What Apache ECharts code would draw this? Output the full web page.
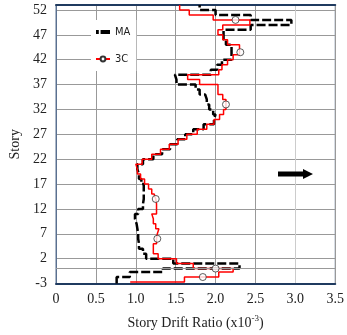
<!DOCTYPE html>
<html><head><meta charset="utf-8">
<script src="https://cdn.jsdelivr.net/npm/echarts@6/dist/echarts.min.js"></script>
<style>html,body{margin:0;padding:0;background:#fff}#c{width:347px;height:335px}</style>
</head><body><div id="c"></div>
<script>
// Story level boundaries (each interval = one story)
const storyLevels = [-2.7, -1.7, -0.7, 0, 1, 2, 3, 4, 5, 6, 7, 8, 9, 10, 11, 12, 13, 14, 15, 16, 17, 18, 19, 20,
  21, 22, 23, 24, 25, 26, 27, 28, 29, 30, 31, 32, 33, 34, 35, 36, 37, 38, 39, 40, 41, 42, 43, 44, 45, 46,
  47, 48, 49, 50, 51, 52, 53];
// Story drift ratio (x10^-3) for each story interval
const maDrift = [0.76, 0.925, 1.34, 2.30, 1.47, 1.13, 1.09, 1.04, 1.03, 1.03, 1.02, 1.01, 0.99, 0.99, 1.03,
  1.09, 1.10, 1.10, 1.10, 1.10, 1.07, 1.04, 1.02, 1.02, 1.09, 1.22, 1.33, 1.43, 1.52, 1.62, 1.72, 1.85,
  1.98, 2.00, 1.97, 1.92, 1.89, 1.87, 1.80, 1.75, 1.51, 1.49, 1.94, 2.02, 2.08, 2.20, 2.20, 2.20, 2.13,
  2.10, 2.10, 2.44, 2.95, 2.44, 2.00, 1.80];
const c3Drift = [1.61, 2.04, 2.22, 1.72, 1.51, 1.28, 1.22, 1.22, 1.26, 1.27, 1.29, 1.25, 1.22, 1.20, 1.26,
  1.26, 1.25, 1.23, 1.20, 1.16, 1.11, 1.06, 1.02, 1.00, 1.08, 1.20, 1.31, 1.42, 1.53, 1.64, 1.77, 1.89,
  1.98, 2.05, 2.10, 2.13, 2.13, 2.09, 2.03, 2.03, 1.80, 1.65, 2.04, 2.08, 2.15, 2.22, 2.30, 2.30, 2.15,
  2.09, 2.03, 2.09, 2.43, 1.97, 1.67, 1.55];
const maStart = [0.76, -3];
const c3Start = [0.93, -2.7];
// circle markers on the 3C curve
const c3MarkerDrift = [1.84, 2.00, 1.27, 1.25, 2.13, 2.31, 2.25];
const c3MarkerStory = [-1.7, 0, 6, 14, 33, 43.5, 50];
const xTickLabels = ['0', '0.5', '1.0', '1.5', '2.0', '2.5', '3.0', '3.5'];
const seriesNames = ['MA', '3C'];

function stepPath(start, drift) {
  const pts = [start];
  drift.forEach((d, i) => {
    pts.push([d, storyLevels[i]]);
    pts.push([d, storyLevels[i + 1]]);
  });
  return pts;
}

const serif = 'Liberation Serif, Times New Roman, serif';
const chart = echarts.init(document.getElementById('c'));
chart.setOption({
  animation: false,
  backgroundColor: '#fff',
  grid: { left: 56, right: 11, top: 5, bottom: 50, show: true, borderColor: '#5a7090', borderWidth: 1 },
  legend: {
    data: [
      { name: seriesNames[0], icon: 'path://M0,0h2.2v3h-2.2z M3.6,0h7.4v3h-7.4z' },
      { name: seriesNames[1] }
    ],
    orient: 'vertical',
    left: 91, top: 20,
    padding: [6, 6, 6, 4],
    itemWidth: 14, itemHeight: 6, itemGap: 15,
    backgroundColor: '#fff',
    textStyle: { fontFamily: 'Liberation Sans Narrow, DejaVu Sans Condensed, Arial Narrow, Liberation Sans, sans-serif', fontSize: 11, color: '#222', lineHeight: 12 }
  },
  xAxis: [{
    type: 'value', min: 0, max: 3.5, interval: 0.5,
    axisLine: { show: true, onZero: false, lineStyle: { color: '#1f3a5f', width: 2 } },
    axisTick: { show: false },
    splitLine: { show: true, lineStyle: { color: ['#999', '#999', '#999', '#999', '#999', '#999', '#ccc', '#999'], width: 1 } },
    axisLabel: { fontFamily: serif, fontSize: 14, color: '#222', margin: 9,
      formatter: (v) => xTickLabels[Math.round(v / 0.5)] },
    name: 'Story Drift Ratio (x10{sup|-3})',
    nameLocation: 'middle', nameGap: 31,
    nameTextStyle: { fontFamily: serif, fontSize: 14, color: '#222',
      rich: { sup: { fontFamily: serif, fontSize: 9, verticalAlign: 'top', padding: [0, 0, 8, 0] } } }
  }, {
    type: 'value', position: 'top', min: 0, max: 3.5, interval: 0.5,
    axisLine: { show: true, onZero: false, lineStyle: { color: '#1f3a5f', width: 2 } },
    axisTick: { show: false }, axisLabel: { show: false }, splitLine: { show: false }
  }],
  yAxis: {
    type: 'value', min: -3, max: 53, interval: 5,
    axisLine: { show: true, onZero: false, lineStyle: { color: '#5a7090', width: 1 } },
    axisTick: { show: false },
    splitLine: { show: true, lineStyle: { color: '#999', width: 1 } },
    axisLabel: { fontFamily: serif, fontSize: 14, color: '#222', margin: 9, showMaxLabel: false },
    name: 'Story', nameLocation: 'middle', nameGap: 31, nameRotate: 90,
    nameTextStyle: { fontFamily: serif, fontSize: 14, color: '#222' }
  },
  series: [{
    name: seriesNames[0], type: 'line', data: stepPath(maStart, maDrift),
    symbol: 'none', z: 3,
    lineStyle: { color: '#000', width: 2.5, type: [9, 3] },
    itemStyle: { color: '#000' },
    markLine: { silent: true, symbol: ['none', 'none'], label: { show: false },
      lineStyle: { color: '#999', type: 'solid', width: 1 }, data: [{ yAxis: 0 }] }
  }, {
    name: seriesNames[1], type: 'line', data: stepPath(c3Start, c3Drift),
    symbol: 'circle', showSymbol: false, symbolSize: 7, z: 4,
    lineStyle: { color: '#ff0000', width: 1.5 },
    itemStyle: { color: '#fff', borderColor: '#333', borderWidth: 1 }
  }, {
    name: '3C markers', type: 'scatter', z: 5,
    data: c3MarkerDrift.map((d, i) => [d, c3MarkerStory[i]]),
    symbol: 'circle', symbolSize: 7,
    itemStyle: { color: '#fff', borderColor: '#333', borderWidth: 1 }
  }],
  graphic: [{
    type: 'polygon', z: 10,
    shape: { points: [[278, 171.5], [303, 171.5], [303, 169], [313, 174], [303, 179], [303, 176.5], [278, 176.5]] },
    style: { fill: '#000' }
  }]
});
</script></body></html>
